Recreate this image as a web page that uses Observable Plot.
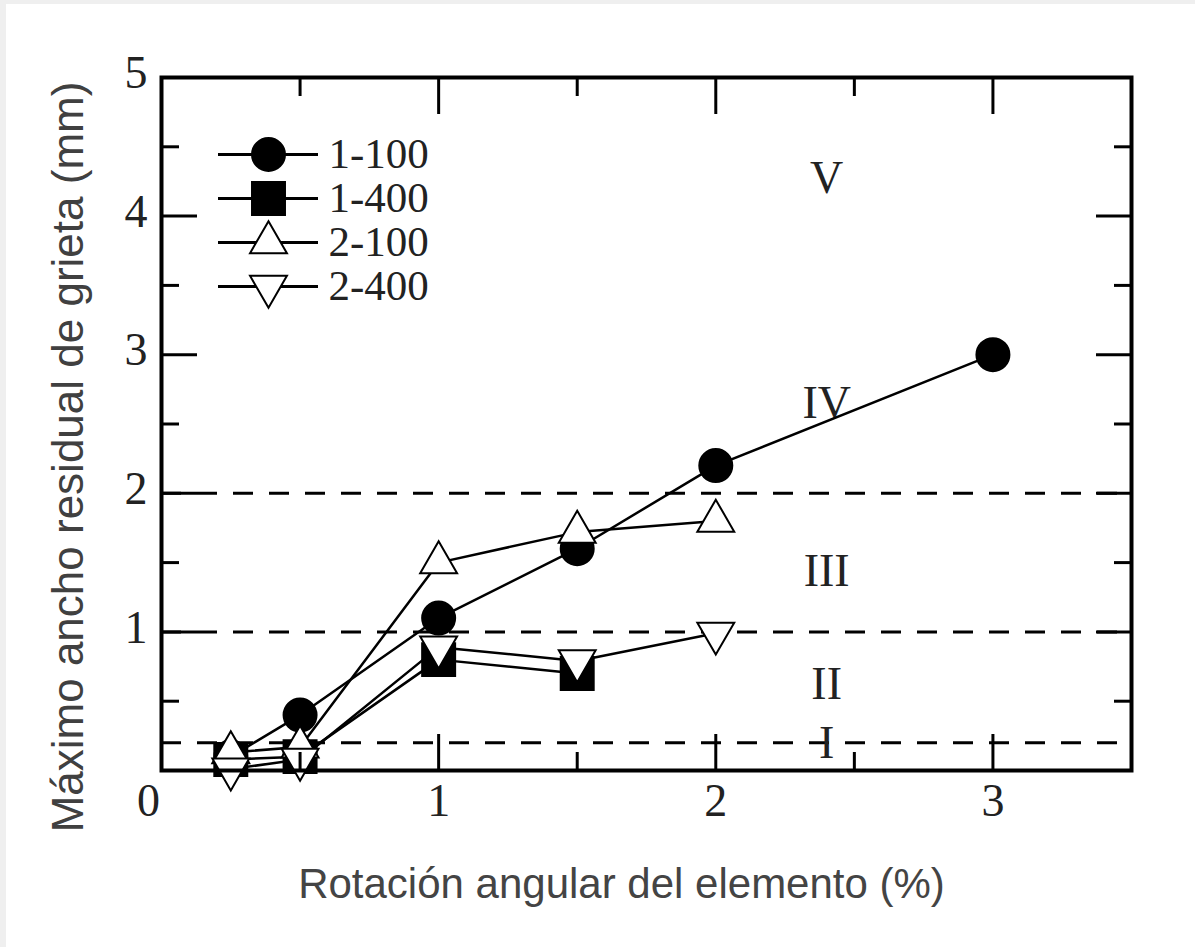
<!DOCTYPE html>
<html>
<head>
<meta charset="utf-8">
<script src="https://cdn.jsdelivr.net/npm/d3@7"></script>
<script src="https://cdn.jsdelivr.net/npm/@observablehq/plot@0.6"></script>
<style>
  html, body { margin: 0; padding: 0; background: #efefef; }
  #wrap { position: absolute; left: 6px; top: 4px; width: 1189px; height: 943px; background: #ffffff; }
  #wrap svg { position: absolute; }
</style>
</head>
<body>
<div id="wrap"></div>
<script>
// ---------- data ----------
const seriesNames = ["1-100", "1-400", "2-100", "2-400"];
const rotation_1_100 = [0.25, 0.5, 1, 1.5, 2, 3];
const crack_1_100    = [0.10, 0.40, 1.10, 1.60, 2.20, 3.00];
const rotation_1_400 = [0.25, 0.5, 1, 1.5];
const crack_1_400    = [0.08, 0.10, 0.80, 0.70];
const rotation_2_100 = [0.25, 0.5, 1, 1.5, 2];
const crack_2_100    = [0.13, 0.17, 1.50, 1.72, 1.80];
const rotation_2_400 = [0.25, 0.5, 1, 1.5, 2];
const crack_2_400    = [0.01, 0.08, 0.89, 0.79, 0.99];

const limitLines = [0.2, 1, 2];
const zoneNames = ["I", "II", "III", "IV", "V"];
const zoneCenters = [0.2, 0.62, 1.44, 2.65, 4.27];
const zoneRotation = [2.4, 2.4, 2.4, 2.4, 2.4];

const xMajorTicks = [0, 1, 2, 3];
const xMinorTicks = [0.5, 1.5, 2.5];
const xTickLabels = [1, 2, 3];
const xZeroLabel = [0];
const yMajorTicks = [1, 2, 3, 4, 5];
const yMinorTicks = [0.5, 1.5, 2.5, 3.5, 4.5];
const yTickLabels = [1, 2, 3, 4, 5];

const xTitle = "Rotación angular del elemento (%)";
const yTitle = "Máximo ancho residual de grieta (mm)";

// ---------- build tables ----------
const rotations = [rotation_1_100, rotation_1_400, rotation_2_100, rotation_2_400];
const cracks = [crack_1_100, crack_1_400, crack_2_100, crack_2_400];
const series = seriesNames.map((name, i) => ({
  name,
  data: rotations[i].map((r, j) => ({rot: r, crack: cracks[i][j]}))
}));
const zones = zoneNames.map((z, i) => ({label: z, rot: zoneRotation[i], crack: zoneCenters[i]}));

// ---------- styles ----------
const triangleDown = {
  draw(context, size) {
    const y = -Math.sqrt(size / (Math.sqrt(3) * 3));
    context.moveTo(0, -y * 2);
    context.lineTo(-Math.sqrt(3) * y, y);
    context.lineTo(Math.sqrt(3) * y, y);
    context.closePath();
  }
};
const seriesStyle = {
  "1-100": {symbol: "circle", r: 16.5, fill: "black"},
  "1-400": {symbol: "square", r: 18.6, fill: "black"},
  "2-100": {symbol: "triangle", r: 13.7, fill: "white"},
  "2-400": {symbol: triangleDown, r: 13.7, fill: "white"}
};
const serif = "'Liberation Serif', 'Times New Roman', serif";
const sans = "'Liberation Sans', Arial, sans-serif";
const ink = "#222";
const intFormat = d => String(d);

const seriesMarks = series.flatMap(s => {
  const st = seriesStyle[s.name];
  return [
    Plot.line(s.data, {x: "rot", y: "crack", stroke: "black", strokeWidth: 2.5}),
    Plot.dot(s.data, {x: "rot", y: "crack", symbol: st.symbol, r: st.r, fill: st.fill, stroke: "black", strokeWidth: 2})
  ];
});

const chart = Plot.plot({
  width: 1189,
  height: 943,
  marginLeft: 155,
  marginRight: 64,
  marginTop: 73,
  marginBottom: 177,
  x: {domain: [0, 3.5]},
  y: {domain: [0, 5]},
  style: {background: "transparent", overflow: "visible"},
  marks: [
    Plot.ruleY(limitLines, {y: d => d, stroke: "black", strokeWidth: 3, strokeDasharray: "20,16"}),
    Plot.text(zones, {x: "rot", y: "crack", text: "label", fontSize: 46, fontFamily: serif, fill: ink, lineAnchor: "middle"}),
    ...seriesMarks,
    Plot.frame({stroke: "black", strokeWidth: 4}),
    // inward ticks
    Plot.axisX(xMajorTicks, {anchor: "bottom", tickSize: -36, fill: "none", label: null, stroke: "black", strokeWidth: 3}),
    Plot.axisX(xMinorTicks, {anchor: "bottom", tickSize: -18, fill: "none", label: null, stroke: "black", strokeWidth: 3}),
    Plot.axisX(xMajorTicks, {anchor: "top", tickSize: -36, fill: "none", label: null, stroke: "black", strokeWidth: 3}),
    Plot.axisX(xMinorTicks, {anchor: "top", tickSize: -18, fill: "none", label: null, stroke: "black", strokeWidth: 3}),
    Plot.axisY(yMajorTicks, {anchor: "left", tickSize: -36, fill: "none", label: null, stroke: "black", strokeWidth: 3}),
    Plot.axisY(yMinorTicks, {anchor: "left", tickSize: -18, fill: "none", label: null, stroke: "black", strokeWidth: 3}),
    Plot.axisY(yMajorTicks, {anchor: "right", tickSize: -36, fill: "none", label: null, stroke: "black", strokeWidth: 3}),
    Plot.axisY(yMinorTicks, {anchor: "right", tickSize: -18, fill: "none", label: null, stroke: "black", strokeWidth: 3}),
    // tick labels
    Plot.axisX(xTickLabels, {anchor: "bottom", tickSize: 0, tickPadding: 13, tickFormat: intFormat, label: null, fontSize: 46, fontFamily: serif, color: ink}),
    Plot.axisX(xZeroLabel, {anchor: "bottom", tickSize: 0, tickPadding: 13, tickFormat: intFormat, dx: -13, label: null, fontSize: 46, fontFamily: serif, color: ink}),
    Plot.axisY(yTickLabels, {anchor: "left", tickSize: 0, tickPadding: 14, tickFormat: intFormat, dy: -4, label: null, fontSize: 46, fontFamily: serif, color: ink}),
    // axis titles
    Plot.text([xTitle], {text: d => d, frameAnchor: "bottom", textAnchor: "middle", lineAnchor: "bottom", dx: -25, dy: 127, fontSize: 42, fontFamily: sans, fill: "#444"}),
    Plot.text([yTitle], {text: d => d, frameAnchor: "left", textAnchor: "middle", rotate: -90, lineAnchor: "bottom", dx: -79, dy: 33, fontSize: 44, fontFamily: sans, fill: "#404040"})
  ]
});
chart.style.left = "0px";
chart.style.top = "0px";
document.getElementById("wrap").appendChild(chart);

// ---------- legend ----------
const legend = Plot.plot({
  width: 230,
  height: 184,
  marginLeft: 0,
  marginRight: 130,
  marginTop: 25,
  marginBottom: 25,
  y: {type: "point", domain: seriesNames, padding: 0, axis: null},
  style: {background: "transparent", overflow: "visible"},
  marks: [
    Plot.ruleY(seriesNames, {y: d => d, stroke: "black", strokeWidth: 3}),
    ...seriesNames.map(name => {
      const st = seriesStyle[name];
      return Plot.dot([name], {y: d => d, frameAnchor: "middle", symbol: st.symbol, r: st.r, fill: st.fill, stroke: "black", strokeWidth: 2});
    }),
    Plot.text(seriesNames, {y: d => d, text: d => d, frameAnchor: "right", dx: 10, textAnchor: "start", lineAnchor: "middle", fontSize: 43, fontFamily: serif, fill: ink})
  ]
});
legend.style.left = "212px";
legend.style.top = "124px";
document.getElementById("wrap").appendChild(legend);
</script>
</body>
</html>
